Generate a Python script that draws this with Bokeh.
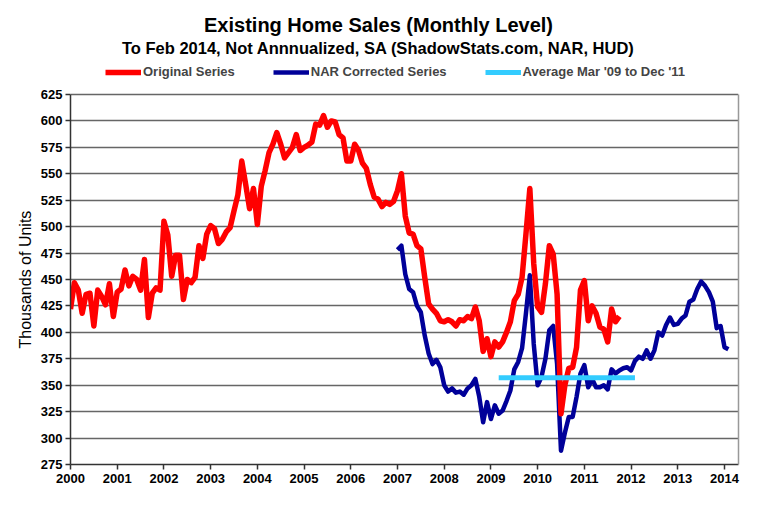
from bokeh.plotting import figure
from bokeh.models import Range1d, Label, Legend, LegendItem, FixedTicker, LinearAxis, Title
from bokeh.embed import file_html
from bokeh.resources import INLINE

title_text = "Existing Home Sales (Monthly Level)"
subtitle_text = "To Feb 2014, Not Annnualized, SA (ShadowStats.com, NAR, HUD)"
y_label = "Thousands of Units"
series_names = ["Original Series", "NAR Corrected Series", "Average Mar '09 to Dec '11"]

# Original series, monthly, Jan 2000 - Oct 2011 (thousands of units)
original_start = (2000, 1)
original_values = [
    422, 447, 440, 418, 436, 437, 406, 440, 434, 426, 446, 415,   # 2000
    438, 441, 459, 444, 453, 450, 440, 469, 414, 437, 442, 440,   # 2001
    505, 492, 453, 473, 473, 431, 450, 447, 452, 482, 470, 493,   # 2002
    501, 498, 484, 488, 495, 499, 515, 530, 562, 540, 517, 536,   # 2003
    502, 538, 553, 570, 578, 589, 578, 565, 570, 575, 587, 572,   # 2004
    575, 577, 580, 597, 596, 605, 594, 600, 599, 587, 584, 562,   # 2005
    562, 578, 572, 560, 555, 540, 528, 526, 519, 523, 521, 524,   # 2006
    534, 550, 510, 494, 493, 482, 479, 452, 427, 422, 418, 411,   # 2007
    410, 412, 410, 406, 412, 411, 415, 413, 424, 411, 382, 394,   # 2008
    377, 391, 386, 391, 400, 410, 430, 436, 452, 493, 536, 465,   # 2009
    424, 419, 446, 482, 474, 436, 323, 350, 366, 367, 386, 440,   # 2010
    449, 411, 425, 418, 405, 403, 391, 422, 410, 415,             # 2011
]

# NAR corrected series, monthly, Jan 2007 - Feb 2014
corrected_start = (2007, 1)
corrected_values = [
    478, 482, 455, 441, 438, 425, 419, 397, 380, 370, 374, 367,   # 2007
    350, 344, 347, 343, 344, 341, 347, 350, 356, 339, 315, 334,   # 2008
    318, 331, 323, 326, 335, 345, 365, 372, 385, 418, 454, 389,   # 2009
    350, 358, 375, 402, 406, 370, 288, 305, 320, 320, 339, 361,   # 2010
    369, 348, 356, 348, 348, 350, 346, 365, 361, 364, 366, 367,   # 2011
    364, 373, 377, 375, 383, 375, 383, 400, 397, 407, 414, 407,   # 2012
    408, 413, 416, 429, 431, 441, 448, 444, 438, 429, 404, 406,   # 2013
    386, 384,                                                     # 2014
]

# Average level, drawn from Mar 2009 to Feb 2012 in the chart
average_value = 357
average_start = (2009, 3)
average_end = (2012, 2)

year_ticks = list(range(2000, 2015))
value_ticks = list(range(275, 626, 25))
value_bounds = (275, 625)

colors = ["#FF0000", "#000099", "#33CCFF"]
FONT = "Liberation Sans"


def month_positions(start, n):
    y, m = start
    return [y + (m - 1 + i) / 12 for i in range(n)]


def month_pos(ym):
    return ym[0] + (ym[1] - 1) / 12


# frame covers the whole top area so that titles/legend are drawn inside it;
# the value axis itself is limited to 275..625 via bounds
p = figure(width=755, height=500, output_backend="svg", toolbar_location=None,
           x_range=Range1d(2000, 2014.30), y_range=Range1d(275, 713.9),
           min_border_left=70, min_border_right=17, min_border_top=0, min_border_bottom=36)
p.background_fill_color = "white"
p.border_fill_color = "white"
p.outline_line_color = None

p.xgrid.visible = False
p.ygrid.grid_line_color = "#666666"
p.ygrid.grid_line_width = 1.5

p.xaxis.ticker = FixedTicker(ticks=year_ticks)
p.yaxis.ticker = FixedTicker(ticks=value_ticks)
p.yaxis.bounds = value_bounds
p.xaxis.major_label_overrides = {t: str(t) for t in year_ticks}
for ax in (p.xaxis[0], p.yaxis[0]):
    ax.axis_line_color = "#333333"
    ax.axis_line_width = 1.5
    ax.major_tick_line_color = "#333333"
    ax.major_tick_line_width = 1.5
    ax.major_tick_out = 5
    ax.major_tick_in = 0
    ax.minor_tick_line_color = None
    ax.major_label_text_font = FONT
    ax.major_label_text_font_size = "13px"
    ax.major_label_text_font_style = "bold"
    ax.major_label_text_color = "black"
p.xaxis.major_label_standoff = 4
p.yaxis.major_label_standoff = 3

# y-axis title, centred on the bounded value axis rather than on the tall frame
y_title = Title(text=y_label, align="left", offset=116, vertical_align="middle",
                text_font=FONT, text_font_size="16px", text_font_style="normal",
                text_color="black", standoff=6)
p.add_layout(y_title, "left")

right_axis = LinearAxis(bounds=value_bounds, ticker=FixedTicker(ticks=[]),
                        axis_line_color="#999999", axis_line_width=1.5,
                        major_tick_out=0, major_tick_in=0, minor_tick_out=0, minor_tick_in=0,
                        major_label_standoff=0)
p.add_layout(right_axis, "right")

ox = month_positions(original_start, len(original_values))
cx = month_positions(corrected_start, len(corrected_values))
avg_x = [month_pos(average_start), month_pos(average_end)]
avg_y = [average_value, average_value]

r_blue = p.line(cx, corrected_values, line_color=colors[1], line_width=4.5, line_join="round")
r_red = p.line(ox, original_values, line_color=colors[0], line_width=5.5, line_join="round")
r_cyan = p.line(avg_x, avg_y, line_color=colors[2], line_width=5)

legend = Legend(items=[LegendItem(label=series_names[0], renderers=[r_red]),
                       LegendItem(label=series_names[1], renderers=[r_blue]),
                       LegendItem(label=series_names[2], renderers=[r_cyan])],
                orientation="horizontal", location=(35, 385),
                glyph_width=36, glyph_height=14, label_standoff=2, spacing=38,
                padding=0, margin=0, border_line_color=None, background_fill_alpha=0,
                label_text_font=FONT, label_text_font_size="13px",
                label_text_font_style="bold", label_height=14)
p.add_layout(legend)

p.add_layout(Label(x=308, y=440, x_units="screen", y_units="screen", text=title_text,
                   text_font=FONT, text_font_size="20px", text_font_style="bold",
                   text_align="center", text_baseline="middle", text_color="black"))
p.add_layout(Label(x=308, y=417, x_units="screen", y_units="screen", text=subtitle_text,
                   text_font=FONT, text_font_size="16.5px", text_font_style="bold",
                   text_align="center", text_baseline="middle", text_color="black"))

open("out.html", "w").write(file_html(p, INLINE))
